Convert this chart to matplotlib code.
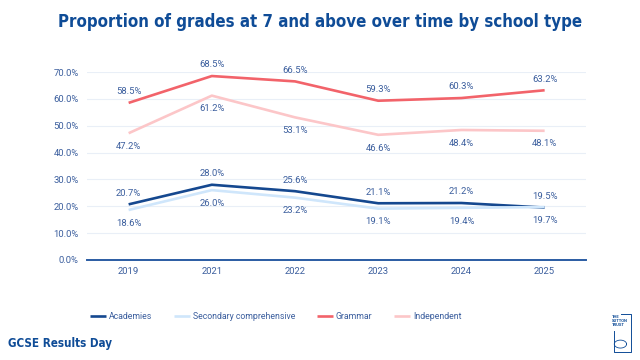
import matplotlib
matplotlib.use("Agg")
import matplotlib.pyplot as plt
from matplotlib import font_manager as fm
import numpy as np

years = ["2019", "2021", "2022", "2023", "2024", "2025"]
academies = [20.7, 28.0, 25.6, 21.1, 21.2, 19.5]
secondary_comp = [18.6, 26.0, 23.2, 19.1, 19.4, 19.7]
grammar = [58.5, 68.5, 66.5, 59.3, 60.3, 63.2]
independent = [47.2, 61.2, 53.1, 46.6, 48.4, 48.1]
yticks = [0, 10, 20, 30, 40, 50, 60, 70]

# look for a condensed bold face for headings
cond_fp = None
for f in fm.fontManager.ttflist:
    nm = (f.name + " " + str(f.stretch)).lower()
    if ("condensed" in nm or "narrow" in nm) and f.weight in ("bold", 700, "heavy", 800, 900):
        cond_fp = fm.FontProperties(fname=f.fname)
        break
if cond_fp is None:
    cond_fp = fm.FontProperties(family="Roboto", weight="bold")

plt.rcParams["font.family"] = ["Roboto", "DejaVu Sans"]

navy = "#0f4c97"
txt = "#3c5f9e"
series = [
    ("Academies", academies, "#15488f", 1),
    ("Secondary comprehensive", secondary_comp, "#cfe6fb", -1),
    ("Grammar", grammar, "#f2636a", 1),
    ("Independent", independent, "#fcc6c8", -1),
]

fig = plt.figure(figsize=(6.4, 3.6), dpi=100, facecolor="white")
ax = fig.add_axes([0.136, 0.278, 0.780, 0.522])
x = np.arange(len(years))
for name, vals, col, side in series:
    ax.plot(x, vals, color=col, lw=1.9, label=name, solid_capstyle="butt", zorder=3)
    for xi, v in zip(x, vals):
        ax.annotate(f"{v:.1f}%", (xi, v), textcoords="offset points",
                    xytext=(0, 8 if side > 0 else -9.5), ha="center", va="center",
                    fontsize=6.8, color=txt)

ax.set_xlim(-0.5, len(years) - 0.5)
ax.set_ylim(0, 70)
ax.set_yticks(yticks)
ax.set_yticklabels([f"{t:.1f}%" for t in yticks])
ax.set_xticks(x)
ax.set_xticklabels(years)
ax.tick_params(axis="both", length=0, labelsize=6.8, labelcolor=txt)
ax.tick_params(axis="y", pad=6)
ax.tick_params(axis="x", pad=5)
for s in ax.spines.values():
    s.set_visible(False)
ax.grid(axis="y", color="#e9eff7", lw=0.8, zorder=0)
ax.axhline(0, color="#2a5ca3", lw=1.4, zorder=2, clip_on=False)
ax.set_axisbelow(True)

leg = fig.legend(loc="center", bbox_to_anchor=(0.431, 0.12), ncol=4, frameon=False,
                 fontsize=6.3, handlelength=1.8, handletextpad=0.35, columnspacing=2.5)
for t in leg.get_texts():
    t.set_color(txt)

title = fig.text(0.5, 0.938, "Proportion of grades at 7 and above over time by school type",
                 ha="center", va="center", fontproperties=cond_fp, fontsize=18, color=navy)
foot = fig.text(0.0125, 0.047, "GCSE Results Day", ha="left", va="center",
                fontproperties=cond_fp, fontsize=12.5, color=navy)

# fit heading widths to the reference
fig.canvas.draw()
r = fig.canvas.get_renderer()
for t, target in ((title, 525.0), (foot, 105.0)):
    w = t.get_window_extent(r).width
    t.set_fontsize(min(t.get_fontsize() * target / w, t.get_fontsize()))

# logo
lax = fig.add_axes([0.955, 0.02, 0.032, 0.11])
lax.set_xlim(0, 1); lax.set_ylim(0, 1); lax.axis("off")
lax.plot([0.5, 0.95, 0.95, 0.15, 0.15], [0.98, 0.98, 0.02, 0.02, 0.55], color=navy, lw=0.7)
lax.text(0.05, 0.95, "THE\nSUTTON\nTRUST", fontsize=3.0, fontweight="bold", color=navy,
         va="top", ha="left", linespacing=0.9)
tt = np.linspace(0, 2 * np.pi, 60)
lax.plot(0.45 + 0.3 * np.cos(tt), 0.22 + 0.1 * np.sin(tt), color=navy, lw=0.6)

fig.savefig("out.png", dpi=100, facecolor="white")
